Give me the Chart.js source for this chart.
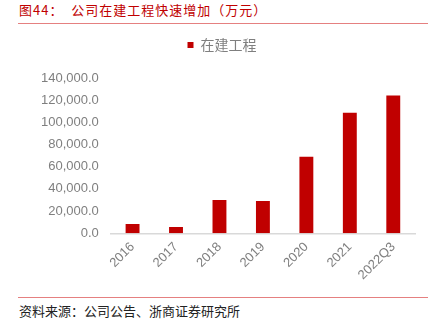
<!DOCTYPE html>
<html>
<head>
<meta charset="utf-8">
<script src="https://cdn.jsdelivr.net/npm/chart.js"></script>
<style>
  html, body { margin: 0; padding: 0; background: #fff; overflow: hidden; }
  body { width: 430px; height: 326px; position: relative; font-family: "Noto Sans CJK SC", sans-serif; }
  #title { position: absolute; left: 19px; top: 2px; font-size: 13px; letter-spacing: 1px; color: #c00000; white-space: pre; line-height: 16px; }
  .rule { position: absolute; left: 18px; width: 410px; height: 1px; background: #e58080; }
  #source { position: absolute; left: 19px; top: 303px; font-size: 13px; color: #222; line-height: 16px; }
  #wrap { position: absolute; left: 17px; top: 22px; width: 430px; height: 267px; }
</style>
</head>
<body>
<div id="title">图44：  公司在建工程快速增加（万元）</div>
<div class="rule" style="top:23px"></div>
<div id="wrap"><canvas id="chart"></canvas></div>
<div class="rule" style="top:297px"></div>
<div id="source">资料来源：公司公告、浙商证券研究所</div>
<script>
var categories = ["2016", "2017", "2018", "2019", "2020", "2021", "2022Q3"];
var seriesName = "在建工程";
var values = [8300, 5700, 29900, 29000, 68900, 108600, 124200];
var yTicks = [0, 20000, 40000, 60000, 80000, 100000, 120000, 140000];

// push the plot down a bit below the legend
var legendGap = {
  id: "legendGap",
  beforeInit: function (chart) {
    var fit = chart.legend.fit;
    chart.legend.fit = function () {
      fit.bind(chart.legend)();
      this.height += 16;
    };
  }
};

var ctx = document.getElementById("chart").getContext("2d");
var chart = new Chart(ctx, {
  type: "bar",
  data: {
    labels: categories,
    datasets: [{
      label: seriesName,
      data: values,
      backgroundColor: "#c00000",
      borderWidth: 0,
      categoryPercentage: 1,
      barPercentage: 0.32
    }]
  },
  options: {
    responsive: true,
    maintainAspectRatio: false,
    animation: false,
    layout: { padding: { left: 12, right: 32, top: 0, bottom: 0 } },
    plugins: {
      legend: {
        display: true,
        position: "top",
        labels: {
          boxWidth: 6,
          boxHeight: 6,
          padding: 16,
          color: "#7f7f7f",
          font: { size: 14, family: "'Noto Sans CJK SC', sans-serif" }
        }
      },
      tooltip: { enabled: false }
    },
    scales: {
      x: {
        grid: { display: false, drawTicks: false },
        border: { display: true, color: "#d9d9d9", width: 1.5 },
        ticks: {
          color: "#7f7f7f",
          font: { size: 13, family: "'Liberation Sans', Arial, sans-serif" },
          maxRotation: 45,
          minRotation: 45,
          padding: 6
        }
      },
      y: {
        min: yTicks[0],
        max: yTicks[yTicks.length - 1],
        afterBuildTicks: function (axis) {
          axis.ticks = yTicks.map(function (v) { return { value: v }; });
        },
        grid: { display: false, drawTicks: false },
        border: { display: false },
        ticks: {
          color: "#7f7f7f",
          padding: 12,
          font: { size: 13, family: "'Liberation Sans', Arial, sans-serif" },
          callback: function (v) {
            return Number(v).toLocaleString("en-US", { minimumFractionDigits: 1, maximumFractionDigits: 1 });
          }
        }
      }
    }
  },
  plugins: [legendGap]
});
</script>
</body>
</html>
